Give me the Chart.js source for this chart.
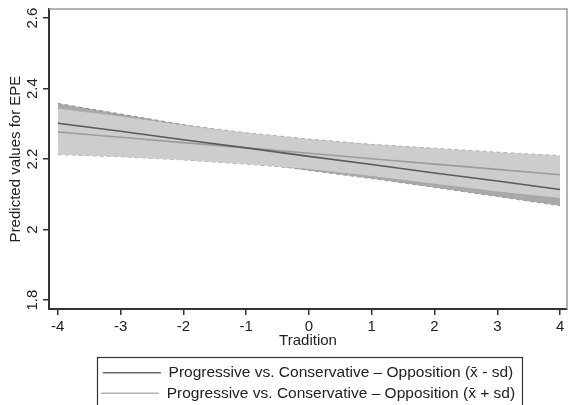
<!DOCTYPE html>
<html>
<head>
<meta charset="utf-8">
<script src="https://cdn.jsdelivr.net/npm/chart.js@4.4.1/dist/chart.umd.min.js"></script>
<style>
  html, body { margin: 0; padding: 0; background: #fff; }
  #wrap { width: 569px; height: 405px; }
</style>
</head>
<body>
<div id="wrap"><canvas id="chart"></canvas></div>
<script>
// Valores del eje x (Tradition)
const tradition = [-4, -3, -2, -1, 0, 1, 2, 3, 4];
const xTicks = [-4, -3, -2, -1, 0, 1, 2, 3, 4];
const yTicks = [1.8, 2, 2.2, 2.4, 2.6];

// Predicciones (x̄ - sd) y su intervalo
const lowLine = [2.302, 2.279, 2.255, 2.232, 2.208, 2.185, 2.161, 2.138, 2.114];
const lowUpper = [2.358, 2.328, 2.298, 2.271, 2.248, 2.227, 2.206, 2.186, 2.160];
const lowLower = [2.246, 2.230, 2.212, 2.193, 2.168, 2.145, 2.120, 2.094, 2.068];

// Predicciones (x̄ + sd) y su intervalo
const highLine = [2.277, 2.262, 2.247, 2.232, 2.217, 2.201, 2.186, 2.171, 2.156];
const highUpper = [2.344, 2.322, 2.297, 2.275, 2.257, 2.242, 2.231, 2.220, 2.210];
const highLower = [2.213, 2.207, 2.198, 2.186, 2.172, 2.152, 2.130, 2.108, 2.090];

const labelLow = 'Progressive vs. Conservative \u2013 Opposition (x\u0304 - sd)';
const labelHigh = 'Progressive vs. Conservative \u2013 Opposition (x\u0304 + sd)';

const FONT = 'Arial, "Liberation Sans", sans-serif';

function pts(ys) {
    return tradition.map((x, i) => ({ x: x, y: ys[i] }));
}

function band(ys, border, fillTarget, fillColor, order) {
    return {
        data: pts(ys),
        borderColor: border,
        borderWidth: 1,
        borderDash: [4, 3],
        pointRadius: 0,
        fill: fillTarget,
        backgroundColor: fillColor,
        order: order,
        isBand: true
    };
}

// Marco superior/derecho, etiquetas del eje y y recuadro de la leyenda
const framePlugin = {
    id: 'frame',
    afterLayout(chart) {
        // mover la leyenda: centrada bajo el área del gráfico y un poco más abajo
        const lg = chart.legend;
        const dx = (chart.chartArea.left + chart.chartArea.right) / 2 - (lg.left + lg.right) / 2;
        lg.left += dx;
        lg.right += dx;
        lg.top += 6;
        lg.bottom += 6;
    },
    afterDraw(chart) {
        const ctx = chart.ctx;
        const a = chart.chartArea;
        ctx.save();
        ctx.strokeStyle = '#9a9a9a';
        ctx.lineWidth = 1.5;
        ctx.beginPath();
        ctx.moveTo(a.left, a.top);
        ctx.lineTo(a.right, a.top);
        ctx.lineTo(a.right, a.bottom);
        ctx.stroke();

        // etiquetas del eje y, giradas como en Stata
        const ys = chart.scales.y;
        ctx.fillStyle = '#222';
        ctx.font = '15px ' + FONT;
        ctx.textAlign = 'center';
        ctx.textBaseline = 'middle';
        yTicks.forEach(v => {
            const py = ys.getPixelForValue(v);
            ctx.save();
            ctx.translate(33, py);
            ctx.rotate(-Math.PI / 2);
            ctx.fillText(String(v), 0, 0);
            ctx.restore();
        });

        const lg = chart.legend;
        ctx.strokeStyle = '#333';
        ctx.lineWidth = 1.2;
        ctx.strokeRect(97.5, lg.top - 2.5, 425, 60);
        ctx.restore();
    }
};

const ctx = document.getElementById('chart').getContext('2d');
new Chart(ctx, {
    type: 'line',
    data: {
        datasets: [
            band(lowUpper, '#8a8a8a', '+1', '#a9a9a9', 6),
            band(lowLower, '#8a8a8a', false, '#a9a9a9', 6),
            band(highUpper, '#b0b0b0', '+1', '#cdcdcd', 4),
            band(highLower, '#a0a0a0', false, '#cdcdcd', 4),
            {
                label: labelLow,
                data: pts(lowLine),
                borderColor: '#5a5a5a',
                borderWidth: 1.6,
                pointRadius: 0,
                fill: false,
                order: 1
            },
            {
                label: labelHigh,
                data: pts(highLine),
                borderColor: '#9c9c9c',
                borderWidth: 1.6,
                pointRadius: 0,
                fill: false,
                order: 2
            }
        ]
    },
    options: {
        responsive: true,
        maintainAspectRatio: false,
        animation: false,
        layout: { padding: { top: 9, right: 2, left: 0, bottom: 0 } },
        plugins: {
            tooltip: { enabled: false },
            legend: {
                position: 'bottom',
                labels: {
                    font: { size: 15.5, family: FONT },
                    color: '#222',
                    padding: 5,
                    usePointStyle: true,
                    pointStyle: 'line',
                    pointStyleWidth: 58,
                    boxHeight: 10,
                    generateLabels(chart) {
                        return chart.data.datasets
                            .map((d, i) => ({ d, i }))
                            .filter(o => !o.d.isBand)
                            .map(o => ({
                                text: o.d.label,
                                strokeStyle: o.i === 4 ? '#6a6a6a' : '#b4b4b4',
                                fillStyle: 'transparent',
                                lineWidth: 1.6,
                                pointStyle: 'line',
                                datasetIndex: o.i,
                                fontColor: '#222'
                            }));
                    }
                }
            }
        },
        scales: {
            x: {
                type: 'linear',
                min: -4.14,
                max: 4.11,
                afterBuildTicks(scale) {
                    scale.ticks = xTicks.map(v => ({ value: v }));
                },
                afterFit(scale) {
                    scale.height = 405 - 309 - scale.chart.legend.height;
                },
                grid: { drawOnChartArea: false, drawTicks: true, tickLength: 6, color: '#333', lineWidth: 1.5 },
                border: { color: '#333', width: 2 },
                ticks: {
                    font: { size: 15, family: FONT },
                    color: '#222',
                    padding: 3,
                    maxRotation: 0
                },
                title: {
                    display: true,
                    text: 'Tradition',
                    font: { size: 15, family: FONT },
                    color: '#222',
                    padding: { top: 0, bottom: 4 }
                }
            },
            y: {
                type: 'linear',
                min: 1.775,
                max: 2.626,
                afterBuildTicks(scale) {
                    scale.ticks = yTicks.map(v => ({ value: v }));
                },
                afterFit(scale) {
                    scale.width = 49;
                },
                grid: { drawOnChartArea: false, drawTicks: true, tickLength: 6, color: '#333', lineWidth: 1.5 },
                border: { color: '#333', width: 2 },
                ticks: { display: false },
                title: {
                    display: true,
                    text: 'Predicted values for EPE',
                    font: { size: 15, family: FONT },
                    color: '#222',
                    padding: { top: 7, bottom: 0 }
                }
            }
        }
    },
    plugins: [framePlugin]
});
</script>
</body>
</html>
